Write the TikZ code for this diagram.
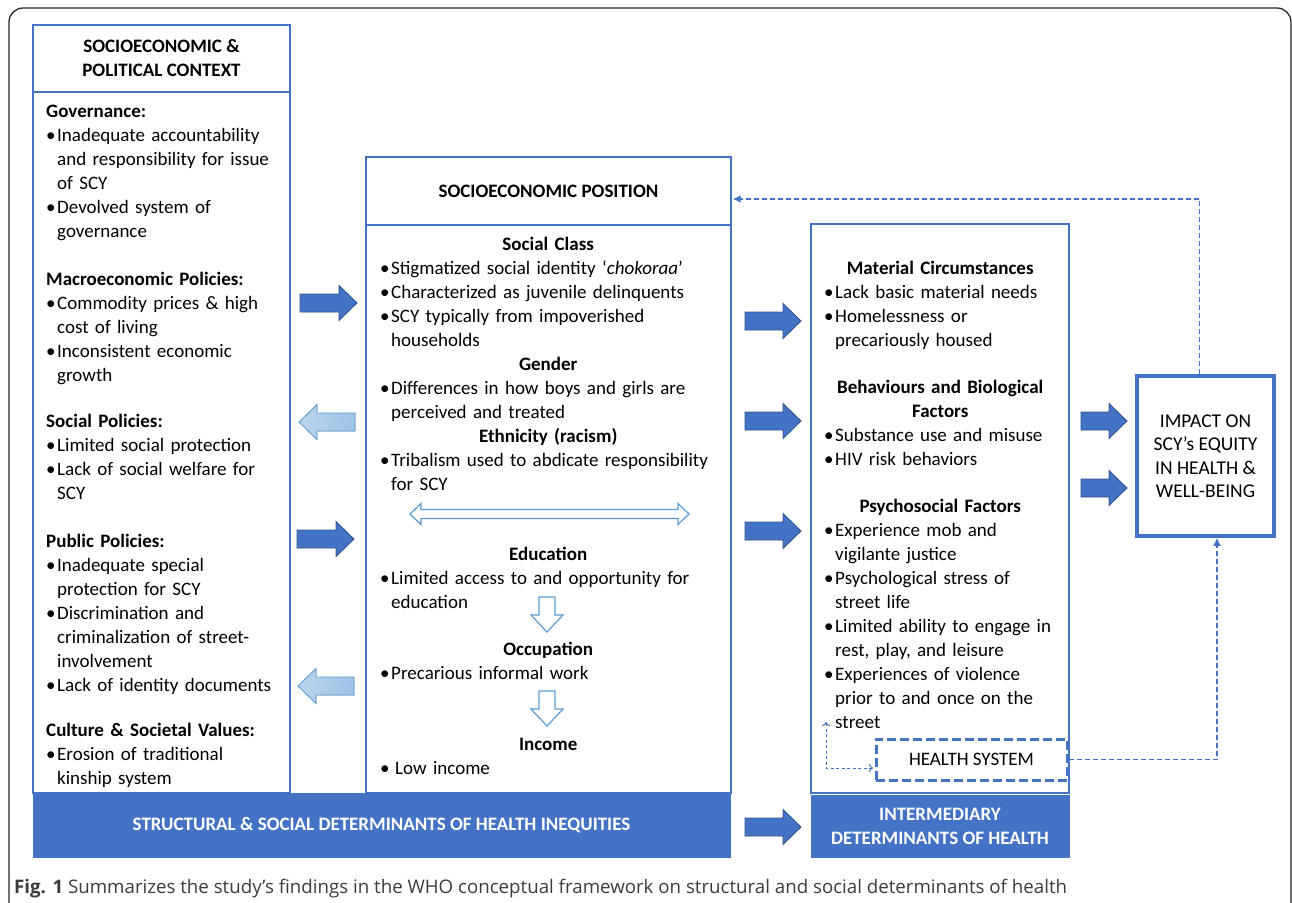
\documentclass[tikz,border=0pt]{standalone}
\usepackage{fontspec}
\setmainfont{Carlito}
\newfontfamily\capfont{Open Sans}
\usepackage{tikz}
\usetikzlibrary{arrows.meta,calc}

\newlength{\hdw}
\newcommand{\nl}{\hfil\break}
\newcommand{\hd}[1]{\par\noindent\textbf{#1}}
\newcommand{\ctr}[1]{\par\noindent\hbox to\hdw{\hfil\bfseries #1\hfil}}
\newcommand{\bul}[1]{\par\hangindent=11pt\hangafter=1\noindent\hbox to 11pt{\textbullet\hfil}#1\par}

\begin{document}
\begin{tikzpicture}[x = 1pt, y = -1pt]
  \definecolor{boxBlue}{RGB}{68, 114, 196};
  \definecolor{arrEdge}{RGB}{47, 82, 143};
  \definecolor{paleFill}{RGB}{157, 195, 230};
  \definecolor{paleEdge}{RGB}{91, 155, 213};
  \definecolor{capGray}{RGB}{60, 60, 60};

  \tikzset{
    box/.style = {draw = boxBlue, line width = 1.4pt, inner sep = 0pt},
    bar/.style = {fill = boxBlue, draw = boxBlue, text = white, inner sep = 0pt,
      align = center, font = \fontsize{19}{24}\selectfont\bfseries},
    ttl/.style = {font = \fontsize{19}{24}\selectfont\bfseries, align = center},
    txt/.style = {anchor = base west, inner sep = 0pt, text width = #1, align = left,
      font = \fontsize{19}{24}\selectfont},
    fat/.style = {fill = boxBlue, draw = arrEdge, line width = 0.8pt},
    pale/.style = {left color = paleFill!70, right color = paleFill, draw = paleEdge, line width = 0.8pt},
    hollow/.style = {fill = white, draw = paleEdge, line width = 1.2pt},
    fb/.style = {draw = boxBlue, line width = 1.6pt, dash pattern = on 5pt off 3pt,
      -{Latex[length = 8pt, width = 8pt]}},
    fbs/.style = {draw = boxBlue, line width = 1pt, dash pattern = on 3pt off 2.5pt,
      {To[length = 4pt, width = 8pt]}-{To[length = 4pt, width = 8pt]}}
  }

  \useasboundingbox (0, 0) rectangle (1292, 902);
  \draw[line width = 1.3pt, draw = black!85, rounded corners = 14pt] (9, 930) -- (9, 8) -- (1291, 8) -- (1291, 930);

  % boxes
  \node[box, ttl, minimum width = 257pt, minimum height = 67pt] (ctx) at (161.5, 58.5) {SOCIOECONOMIC \&\\POLITICAL CONTEXT};
  \node[box, minimum width = 257pt, minimum height = 701pt] (ctxBody) at (161.5, 442.5) {};
  \node[box, ttl, minimum width = 365pt, minimum height = 68pt] (sep) at (548.5, 191) {SOCIOECONOMIC POSITION};
  \node[box, minimum width = 365pt, minimum height = 568pt] (sepBody) at (548.5, 509) {};
  \node[box, minimum width = 258pt, minimum height = 569pt] (inter) at (940, 508.5) {};
  \node[bar, minimum width = 697pt, minimum height = 64pt] (structBar) at (381.5, 825) {STRUCTURAL \& SOCIAL DETERMINANTS OF HEALTH INEQUITIES};
  \node[bar, minimum width = 258pt, minimum height = 62pt] (interBar) at (940, 826) {INTERMEDIARY\\DETERMINANTS OF HEALTH};
  \node[draw = boxBlue, line width = 3.5pt, minimum width = 137pt, minimum height = 160pt, align = center,
    font = \fontsize{19.5}{23.5}\selectfont] (impact) at (1205.5, 456) {IMPACT ON\\SCY’s EQUITY\\IN HEALTH \&\\WELL-BEING};
  \node[fill = white, draw = boxBlue, line width = 3pt, dash pattern = on 9pt off 4pt, minimum width = 191pt,
    minimum height = 41pt, font = \fontsize{19}{22}\selectfont] (hs) at (971.5, 759.5) {HEALTH SYSTEM};

  % left column
  \node[txt = 240pt] (gov) at (46, 93.5) {\hd{Governance:}\bul{Inadequate accountability\nl and responsibility for issue\nl of SCY}\bul{Devolved system of\nl governance}};
  \node[txt = 240pt] (macro) at (46, 261.5) {\hd{Macroeconomic Policies:}\bul{Commodity prices \& high\nl cost of living}\bul{Inconsistent economic\nl growth}};
  \node[txt = 240pt] (social) at (46, 403.5) {\hd{Social Policies:}\bul{Limited social protection}\bul{Lack of social welfare for\nl SCY}};
  \node[txt = 240pt] (public) at (46, 523.5) {\hd{Public Policies:}\bul{Inadequate special\nl protection for SCY}\bul{Discrimination and\nl criminalization of street-\nl involvement}\bul{Lack of identity documents}};
  \node[txt = 240pt] (culture) at (46, 712.5) {\hd{Culture \& Societal Values:}\bul{Erosion of traditional\nl kinship system}};

  % middle column
  \setlength{\hdw}{336pt}
  \node[txt = 400pt] (cls) at (380, 226.5) {\ctr{Social Class}\bul{Stigmatized social identity ‘\textit{chokoraa}’}\bul{Characterized as juvenile delinquents}\bul{SCY typically from impoverished\nl households}\ctr{Gender}\bul{Differences in how boys and girls are\nl perceived and treated}\ctr{Ethnicity (racism)}\bul{Tribalism used to abdicate responsibility\nl for SCY}};
  \node[txt = 400pt] (edu) at (380, 536.5) {\ctr{Education}\bul{Limited access to and opportunity for\nl education}};
  \node[txt = 400pt] (occ) at (380, 631.5) {\ctr{Occupation}\bul{Precarious informal work}};
  \node[txt = 400pt] (inc) at (380, 726.5) {\ctr{Income}\bul{\hspace{4pt}Low income}};

  % right column
  \setlength{\hdw}{232pt}
  \node[txt = 260pt] (mat) at (824, 250.5) {\ctr{Material Circumstances}\bul{Lack basic material needs}\bul{Homelessness or\nl precariously housed}};
  \node[txt = 260pt] (beh) at (824, 369.5) {\ctr{Behaviours and Biological}\ctr{Factors}\bul{Substance use and misuse}\bul{HIV risk behaviors}};
  \node[txt = 260pt] (psy) at (824, 488.5) {\ctr{Psychosocial Factors}\bul{Experience mob and\nl vigilante justice}\bul{Psychological stress of\nl street life}\bul{Limited ability to engage in\nl rest, play, and leisure}\bul{Experiences of violence\nl prior to and once on the\nl street}};

  % block arrows
  \foreach \x/\y/\l in {300/303/57, 297/539/57, 745/321/56, 745/421/56, 745/531/56, 745/827/56, 1081/421/46, 1081/488/46}
    \filldraw[fat] (\x, \y-9) -- (\x+\l-18, \y-9) -- (\x+\l-18, \y-17.5) -- (\x+\l, \y) -- (\x+\l-18, \y+17.5) -- (\x+\l-18, \y+9) -- (\x, \y+9) -- cycle;
  \foreach \x/\y in {299/422, 298/686}
    \filldraw[pale] (\x, \y) -- (\x+18, \y-17.5) -- (\x+18, \y-9) -- (\x+56, \y-9) -- (\x+56, \y+9) -- (\x+18, \y+9) -- (\x+18, \y+17.5) -- cycle;
  \filldraw[hollow] (410, 514) -- (421, 503.5) -- (421, 509.5) -- (678, 509.5) -- (678, 503.5) -- (689, 514)
    -- (678, 524.5) -- (678, 518.5) -- (421, 518.5) -- (421, 524.5) -- cycle;
  \foreach \t/\b/\e in {597/615/632, 691/709/726}
    \filldraw[hollow] (539, \t) -- (555, \t) -- (555, \b) -- (563, \b) -- (547, \e) -- (531, \b) -- (539, \b) -- cycle;

  % feedback
  \coordinate (upEnd) at (826, 722);
  \draw[fb] ($(impact.north)+(-6, 0)$) |- ($(sep.east)+(1, 8)$);
  \draw[fb] (hs.east) -| ($(impact.south)+(11.5, 0)$);
  \draw[fbs] (upEnd) |- ($(hs.west)+(-1.5, 8.5)$);

  \node[anchor = base west, inner sep = 0pt, text = capGray, font = \capfont\fontsize{18.7}{22}\selectfont] (cap) at (14, 893)
    {\textbf{Fig. 1} Summarizes the study’s findings in the WHO conceptual framework on structural and social determinants of health};
\end{tikzpicture}
\end{document}
